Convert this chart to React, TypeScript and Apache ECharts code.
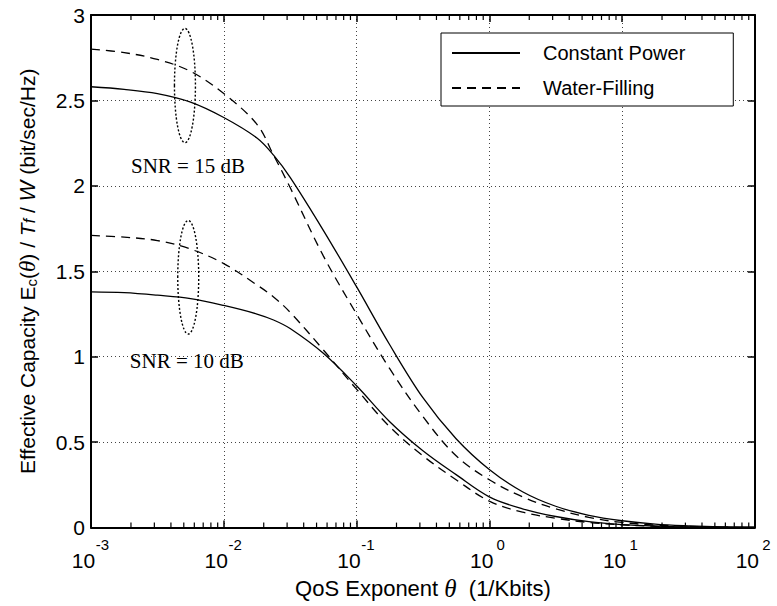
import React, { useEffect, useRef } from 'react';
import * as echarts from 'echarts';

// x positions as decimal exponents of theta (1/Kbits)
const thetaExp = [-3, -2.75, -2.5, -2.25, -2, -1.75, -1.625, -1.5, -1.25, -1, -0.75, -0.5, -0.25, 0, 0.25, 0.5, 0.75, 1, 1.25, 1.5, 1.75, 2];
const cp15 = [2.58, 2.565, 2.54, 2.49, 2.40, 2.28, 2.18, 2.05, 1.74, 1.41, 1.07, 0.76, 0.52, 0.34, 0.21, 0.125, 0.072, 0.04, 0.02, 0.01, 0.004, 0.002];
const wf15 = [2.80, 2.78, 2.74, 2.67, 2.54, 2.36, 2.18, 1.99, 1.59, 1.25, 0.93, 0.65, 0.42, 0.28, 0.18, 0.11, 0.06, 0.03, 0.015, 0.007, 0.003, 0.001];
const cp10 = [1.38, 1.375, 1.36, 1.34, 1.30, 1.25, 1.215, 1.165, 1.02, 0.83, 0.62, 0.45, 0.31, 0.18, 0.11, 0.065, 0.035, 0.018, 0.009, 0.004, 0.002, 0.001];
const wf10 = [1.71, 1.70, 1.68, 1.63, 1.545, 1.42, 1.35, 1.26, 1.04, 0.81, 0.59, 0.42, 0.28, 0.155, 0.09, 0.055, 0.03, 0.016, 0.008, 0.004, 0.002, 0.001];

const legendNames = ['Constant Power', 'Water-Filling'];
const decades = [-3, -2, -1, 0, 1];
const minorMults = [2, 3, 4, 5, 6, 7, 8, 9];

// annotations (data coordinates)
const ellipses = [
  { x: 5.1e-3, y: 2.587, halfLogW: 0.079, halfH: 0.334 },
  { x: 5.4e-3, y: 1.465, halfLogW: 0.079, halfH: 0.332 },
];
const snrLabels = [
  { x: 2.0e-3, y: 2.116, text: 'SNR = 15 dB' },
  { x: 1.96e-3, y: 0.977, text: 'SNR = 10 dB' },
];

const X_MIN = 1e-3;
const X_MAX = 100;
const Y_MIN = 0;
const Y_MAX = 3;

export default function App() {
  const ref = useRef<HTMLDivElement>(null);
  useEffect(() => {
    if (!ref.current) return;
    const chart = echarts.init(ref.current, undefined, { renderer: 'svg' });
    const theta = thetaExp.map((e) => Math.pow(10, e));
    const pair = (arr: number[]) => theta.map((t, i) => [t, arr[i]]);
    const minorTicks: number[][] = [];
    decades.forEach((d) => minorMults.forEach((m) => minorTicks.push([m * Math.pow(10, d), 0])));

    const solid = { color: '#000', width: 1.3, type: 'solid' as const };
    const dashed = { color: '#000', width: 1.3, type: [9, 6] as any };
    const sansFont = 'Liberation Sans, Arial, Helvetica, sans-serif';

    const option: any = {
      animation: false,
      backgroundColor: '#fff',
      grid: { left: 91, right: 20, top: 15, bottom: 75, containLabel: false },
      legend: {
        data: legendNames,
        orient: 'vertical',
        left: 441,
        top: 33,
        itemWidth: 68,
        itemHeight: 14,
        itemGap: 15,
        padding: [10, 48, 8, 10],
        borderColor: '#000',
        borderWidth: 1,
        backgroundColor: '#fff',
        z: 10,
        itemStyle: { opacity: 0 },
        textStyle: { fontSize: 20, fontFamily: sansFont, color: '#000', padding: [0, 0, 0, 18], lineHeight: 20 },
      },
      xAxis: [
        {
          type: 'log',
          logBase: 10,
          min: X_MIN,
          max: X_MAX,
          position: 'bottom',
          axisLine: { show: true, onZero: false, lineStyle: { color: '#000', width: 2 } },
          axisTick: { show: true, inside: true, length: 7, lineStyle: { color: '#000', width: 1.5 } },
          splitLine: { show: true, lineStyle: { color: '#444', width: 1, type: [1, 3] } },
          axisLabel: {
            margin: 11,
            color: '#000',
            formatter: (v: number) => `{s|${Math.round(Math.log10(v))}}\n{b|10}`,
            rich: {
              b: { fontSize: 21, fontFamily: sansFont, color: '#000', lineHeight: 20, padding: [0, 15, 0, 0] },
              s: { fontSize: 15, fontFamily: sansFont, color: '#000', lineHeight: 12, padding: [0, 0, 0, 23] },
            },
          },
          name: '{n|QoS Exponent }{th|θ}{n|  (1/Kbits)}',
          nameLocation: 'middle',
          nameGap: 44,
          nameTextStyle: {
            rich: {
              n: { fontSize: 22, fontFamily: sansFont, color: '#000' },
              th: { fontSize: 25, fontFamily: 'Liberation Serif, serif', fontStyle: 'italic', color: '#000' },
            },
          },
        },
        {
          type: 'log',
          logBase: 10,
          min: X_MIN,
          max: X_MAX,
          position: 'top',
          axisLine: { show: true, onZero: false, lineStyle: { color: '#000', width: 2 } },
          axisTick: { show: true, inside: true, length: 7, lineStyle: { color: '#000', width: 1.5 } },
          splitLine: { show: false },
          axisLabel: { show: false },
        },
      ],
      yAxis: [
        {
          type: 'value',
          min: Y_MIN,
          max: Y_MAX,
          interval: 0.5,
          position: 'left',
          axisLine: { show: true, lineStyle: { color: '#000', width: 2 } },
          axisTick: { show: true, inside: true, length: 7, lineStyle: { color: '#000', width: 1.5 } },
          splitLine: { show: true, lineStyle: { color: '#444', width: 1, type: [1, 3] } },
          axisLabel: { fontSize: 21, fontFamily: sansFont, color: '#000', margin: 6 },
          name:
            '{n|Effective Capacity E}{sub|c}{n|(}{th|θ}{n|) / }{it|T}{subi|f}{n| / }{w|W}{n| (bit/sec/Hz)}',
          nameLocation: 'middle',
          nameRotate: 90,
          nameGap: 52,
          nameTextStyle: {
            rich: {
              n: { fontSize: 21, fontFamily: sansFont, color: '#000', lineHeight: 24 },
              sub: { fontSize: 15, fontFamily: sansFont, color: '#000', padding: [9, 0, 0, 0] },
              th: { fontSize: 23, fontFamily: 'Liberation Serif, serif', fontStyle: 'italic', color: '#000' },
              it: { fontSize: 21, fontFamily: sansFont, fontStyle: 'italic', color: '#000' },
              subi: { fontSize: 16, fontFamily: sansFont, fontStyle: 'italic', color: '#000', padding: [5, 0, 0, 0] },
              w: { fontSize: 22, fontFamily: sansFont, fontStyle: 'italic', color: '#000' },
            },
          },
        },
        {
          type: 'value',
          min: Y_MIN,
          max: Y_MAX,
          interval: 0.5,
          position: 'right',
          axisLine: { show: true, lineStyle: { color: '#000', width: 2 } },
          axisTick: { show: true, inside: true, length: 7, lineStyle: { color: '#000', width: 1.5 } },
          splitLine: { show: false },
          axisLabel: { show: false },
        },
      ],
      series: [
        { name: 'Constant Power', type: 'line', data: pair(cp15), symbol: 'none', smooth: 0.35, lineStyle: solid, itemStyle: { color: '#000' }, z: 3 },
        { name: 'Water-Filling', type: 'line', data: pair(wf15), symbol: 'none', smooth: 0.35, lineStyle: dashed, itemStyle: { color: '#000' }, z: 3 },
        { name: 'Constant Power', type: 'line', data: pair(cp10), symbol: 'none', smooth: 0.35, lineStyle: solid, itemStyle: { color: '#000' }, z: 3 },
        { name: 'Water-Filling', type: 'line', data: pair(wf10), symbol: 'none', smooth: 0.35, lineStyle: dashed, itemStyle: { color: '#000' }, z: 3 },
        {
          name: 'minorTicks',
          type: 'custom',
          clip: false,
          silent: true,
          z: 4,
          data: minorTicks,
          renderItem: (params: any, api: any) => {
            const v = api.value(0);
            const b = api.coord([v, Y_MIN]);
            const t = api.coord([v, Y_MAX]);
            const st = { stroke: '#000', lineWidth: 1.2 };
            return {
              type: 'group',
              children: [
                { type: 'line', shape: { x1: b[0], y1: b[1], x2: b[0], y2: b[1] - 5 }, style: st },
                { type: 'line', shape: { x1: t[0], y1: t[1], x2: t[0], y2: t[1] + 5 }, style: st },
              ],
            };
          },
        },
        {
          name: 'ellipses',
          type: 'custom',
          clip: false,
          silent: true,
          z: 5,
          data: ellipses.map((e, i) => [e.x, e.y, i]),
          renderItem: (params: any, api: any) => {
            const e = ellipses[params.dataIndex];
            const c = api.coord([e.x, e.y]);
            const r = api.coord([e.x * Math.pow(10, e.halfLogW), e.y + e.halfH]);
            return {
              type: 'ellipse',
              shape: { cx: c[0], cy: c[1], rx: Math.abs(r[0] - c[0]), ry: Math.abs(c[1] - r[1]) },
              style: { fill: 'none', stroke: '#000', lineWidth: 1.4, lineDash: [2, 2] },
            };
          },
        },
        {
          name: 'snrLabels',
          type: 'custom',
          clip: false,
          silent: true,
          z: 5,
          data: snrLabels.map((s, i) => [s.x, s.y, i]),
          renderItem: (params: any, api: any) => {
            const s = snrLabels[params.dataIndex];
            const c = api.coord([s.x, s.y]);
            return {
              type: 'text',
              x: c[0],
              y: c[1],
              style: {
                text: s.text,
                fill: '#000',
                font: '21px "Liberation Serif", "Times New Roman", serif',
                textAlign: 'left',
                textVerticalAlign: 'middle',
              },
            };
          },
        },
      ],
    };
    chart.setOption(option);
    return () => chart.dispose();
  }, []);
  return <div ref={ref} style={{ position: 'fixed', left: 0, top: 0, width: 777, height: 606, background: '#fff' }} />;
}
